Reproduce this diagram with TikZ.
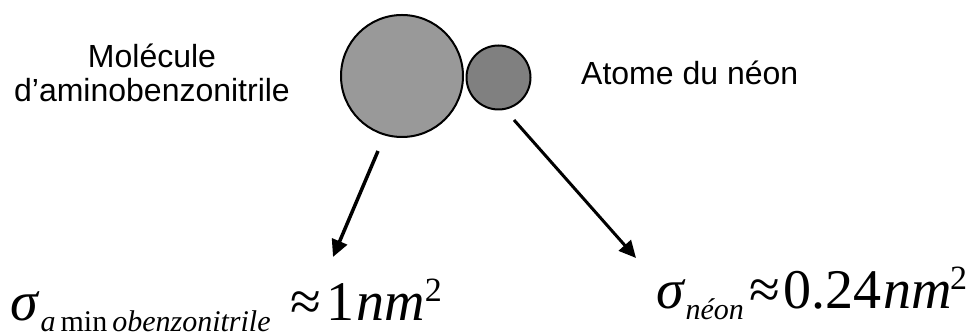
\documentclass[tikz,border=0pt]{standalone}
\usepackage{fontspec}
\setmainfont{Liberation Serif}
\newfontfamily\arialfont{Liberation Sans}
\usetikzlibrary{arrows.meta}
\tikzset{
  atom/.style={circle,draw,line width=2pt,inner sep=0pt},
  caption/.style={font=\arialfont\fontsize{32}{34}\selectfont,inner sep=0pt,align=center},
  formula/.style={font=\fontsize{56}{56}\selectfont,inner sep=0pt,anchor=base west},
  >={Triangle[length=17pt,width=16pt]},
}
\newcommand\lowsub[1]{\raisebox{-11pt}{\fontsize{30}{30}\selectfont #1}}
\newcommand\highsup[1]{\raisebox{19pt}{\fontsize{34}{34}\selectfont #1}}

\begin{document}
\begin{tikzpicture}[x=1pt,y=1pt]
  \useasboundingbox (0,0) rectangle (967,336);
  \node[atom,fill=black!40,minimum size=122pt] (mol) at (402,260) {};
  \node[atom,fill=black!50,minimum size=64pt]  (neon) at (498.5,258.5) {};
  \node[caption,anchor=north] (molname) at (152,292) {Molécule\\d’aminobenzonitrile};
  \node[caption,anchor=base west] (neonname) at (581,251) {Atome du néon};
  \node[formula] (molsigma) at (10,15)
    {\textit{σ}\hspace{1pt}\lowsub{\textit{a}\,min\,\textit{obenzonitrile}}\hspace{20pt}≈\hspace{5pt}1\hspace{2pt}\textit{nm}\highsup{2}};
  \node[formula] (neonsigma) at (656,27)
    {\textit{σ}\lowsub{\textit{néon}}\hspace{6pt}≈\hspace{3pt}0.24\hspace{2pt}\textit{nm}\hspace{-2pt}\highsup{2}};
  \coordinate (molfrom) at (378,185);
  \coordinate (molto) at (333,79);
  \coordinate (neonfrom) at (514,216);
  \coordinate (neonto) at (636,78);
  \draw[->,line width=3.5pt] (molfrom) -- (molto);
  \draw[->,line width=3pt] (neonfrom) -- (neonto);
\end{tikzpicture}
\end{document}
